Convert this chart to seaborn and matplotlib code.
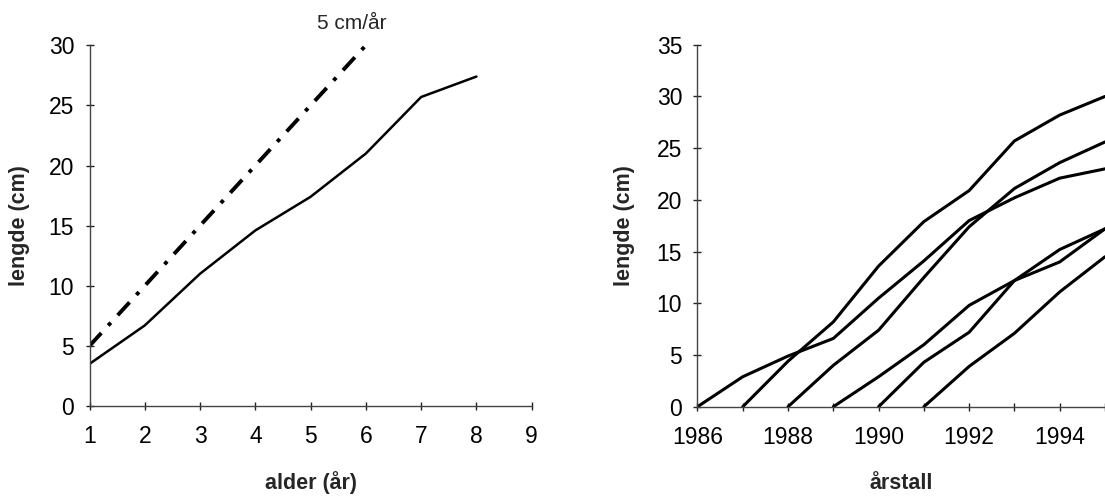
# import required modules
import matplotlib
matplotlib.use('Agg')
import matplotlib.pyplot as plt
import seaborn as sns
import pandas as pd

# data for left chart: length by age
age = [1, 2, 3, 4, 5, 6, 7, 8]
length_age = [3.5, 6.7, 11.0, 14.6, 17.4, 21.0, 25.7, 27.4]
ref_age = [1, 2, 3, 4, 5, 6]
ref_length = [5, 10, 15, 20, 25, 30]

# data for right chart: one growth curve per year class
years = [1986, 1987, 1988, 1989, 1990, 1991, 1992, 1993, 1994, 1995]
cohort_1986 = [0, 2.9, 4.9, 6.6, 10.5, 14.1, 18.0, 20.2, 22.1, 23.0]
cohort_1987 = [0, 4.4, 8.2, 13.6, 17.9, 20.9, 25.7, 28.2, 30.0]
cohort_1988 = [0, 4.0, 7.4, 12.5, 17.4, 21.1, 23.6, 25.6]
cohort_1989 = [0, 2.9, 6.0, 9.8, 12.2, 14.0, 17.2]
cohort_1990 = [0, 4.3, 7.2, 12.2, 15.2, 17.2]
cohort_1991 = [0, 3.9, 7.1, 11.1, 14.5]
cohorts = [cohort_1986, cohort_1987, cohort_1988, cohort_1989, cohort_1990, cohort_1991]

# build long-form table for seaborn
rows = []
for i, values in enumerate(cohorts):
    for yr, val in zip(years[i:], values):
        rows.append({'year': yr, 'length': val, 'cohort': years[i]})
growth = pd.DataFrame(rows)

sns.set_style('ticks')
plt.rcParams['font.family'] = ['Liberation Sans', 'DejaVu Sans']

fig = plt.figure(figsize=(11.05, 4.96), dpi=100)
ax1 = fig.add_axes([0.081, 0.1815, 0.4002, 0.7272])
ax2 = fig.add_axes([0.6312, 0.180, 0.3688, 0.7298])

# left chart
sns.lineplot(x=age, y=length_age, ax=ax1, color='black', linewidth=1.8)
sns.lineplot(x=ref_age, y=ref_length, ax=ax1, color='black', linewidth=2.8)
ax1.lines[-1].set_dashes((4.5, 2.6, 1, 2.6))
ax1.set_xlim(1, 9)
ax1.set_ylim(0, 30)
ax1.set_xticks(range(1, 10))
ax1.set_yticks(range(0, 31, 5))
ax1.text(5.75, 31.8, '5 cm/år', fontsize=15, ha='center', va='center', clip_on=False)

# right chart
sns.lineplot(data=growth, x='year', y='length', units='cohort', estimator=None,
             ax=ax2, color='black', linewidth=2.2)
ax2.set_xlim(1986, 1994.9)
ax2.set_ylim(0, 35)
ax2.set_xticks(range(1986, 1996))
ax2.set_xticklabels([str(y) if y % 2 == 0 else '' for y in range(1986, 1996)])
ax2.set_yticks(range(0, 36, 5))

# labels and axis styling
for ax, xl, lx, ly in [(ax1, 'alder (år)', -0.159, -0.213), (ax2, 'årstall', -0.18, -0.212)]:
    ax.set_xlabel(xl, fontsize=15.5, fontweight='bold')
    ax.set_ylabel('lengde (cm)', fontsize=15.5, fontweight='bold')
    ax.xaxis.set_label_coords(0.5, ly)
    ax.yaxis.set_label_coords(lx, 0.5)
    ax.xaxis.label.set_va('center')
    ax.yaxis.label.set_va('center')
    sns.despine(ax=ax)
    for s in ['left', 'bottom']:
        ax.spines[s].set_color('#444444')
        ax.spines[s].set_linewidth(1.0)
    ax.tick_params(direction='inout', length=6, width=1.0, color='#222222',
                   labelsize=16.5, labelcolor='black')
    ax.tick_params(axis='x', pad=11)
    ax.tick_params(axis='y', pad=8)
    ax.set_facecolor('white')

fig.savefig('out.png', dpi=100, facecolor='white')
